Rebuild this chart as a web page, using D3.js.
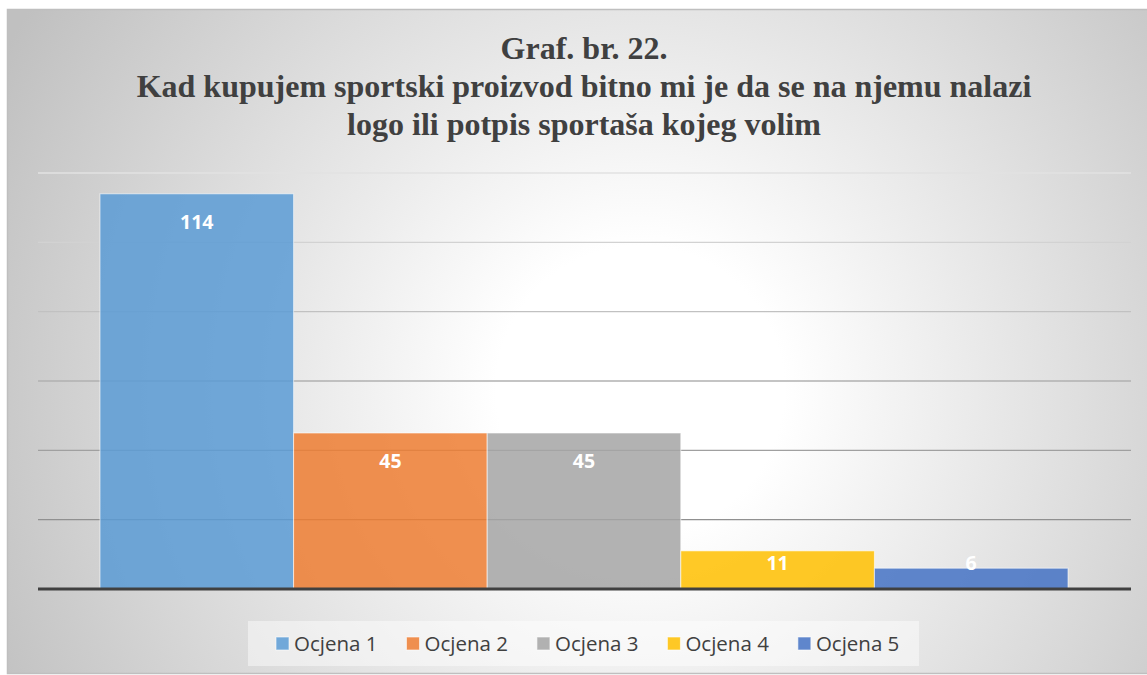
<!DOCTYPE html>
<html lang="hr">
  <head>
    <meta charset="utf-8">
    <title>Graf. br. 22.</title>
  </head>
  <style media="screen">
    body{
      margin:0;
      background-color:#ffffff;
    }
  </style>
  <script src="https://d3js.org/d3.v7.min.js"></script>
  <body>
<svg></svg>
  <script type="text/javascript">
    // podaci
    var titleLines = ["Graf. br. 22.",
                      "Kad kupujem sportski proizvod bitno mi je da se na njemu nalazi",
                      "logo ili potpis sportaša kojeg volim"];
    var series = ["Ocjena 1","Ocjena 2","Ocjena 3","Ocjena 4","Ocjena 5"];
    var values = [114,45,45,11,6];
    var yTicks = [0,20,40,60,80,100,120];
    var colors = ["#5b9bd5","#ed7d31","#a5a5a5","#ffc000","#4472c4"];

    var width = 1147, height = 675;
    var plotLeft = 38, plotRight = 1131, plotTop = 173, plotBottom = 589;

    var svg = d3.select("svg")
                .attr("width",width)
                .attr("height",height);

    // pozadina - radijalni gradijent
    var defs = svg.append("defs");
    var grad = defs.append("radialGradient")
                   .attr("id","bg")
                   .attr("gradientUnits","userSpaceOnUse")
                   .attr("cx",640).attr("cy",390).attr("r",720);
    grad.append("stop").attr("offset","0").attr("stop-color","#ffffff");
    grad.append("stop").attr("offset","0.2").attr("stop-color","#ffffff");
    grad.append("stop").attr("offset","1").attr("stop-color","#c0c0c0");

    svg.append("rect")
       .attr("x",7.5).attr("y",9.5)
       .attr("width",1145).attr("height",664)
       .attr("fill","url(#bg)")
       .attr("stroke","#bfbfbf")
       .attr("stroke-width",1.5);

    // naslov
    svg.selectAll("text.title")
       .data(titleLines)
       .enter()
       .append("text")
       .attr("class","title")
       .text(function(d){ return d; })
       .attr("x",584)
       .attr("y",function(d,i){ return 59 + i*38; })
       .attr("text-anchor","middle")
       .attr("font-family","'Liberation Serif','Times New Roman',serif")
       .attr("font-weight","bold")
       .attr("font-size",32)
       .attr("fill","#404040");

    var y = d3.scaleLinear().domain([0,120]).range([plotBottom,plotTop]);
    var x = d3.scaleBand().domain(series).range([100,1068]).padding(0);
    var gridColor = d3.scaleLinear().domain([0,120]).range(["#7f7f7f","#e2e2e2"]);

    // mreža
    svg.selectAll("line.grid")
       .data(yTicks.slice(1))
       .enter()
       .append("line")
       .attr("class","grid")
       .attr("x1",plotLeft).attr("x2",plotRight)
       .attr("y1",function(d){ return y(d); })
       .attr("y2",function(d){ return y(d); })
       .attr("stroke",function(d){ return gridColor(d); })
       .attr("stroke-width",1.3);

    // stupci
    svg.selectAll("rect.bar")
       .data(values)
       .enter()
       .append("rect")
       .attr("class","bar")
       .attr("x",function(d,i){ return x(series[i]); })
       .attr("width",x.bandwidth())
       .attr("y",function(d){ return y(d); })
       .attr("height",function(d){ return y(0)-y(d); })
       .attr("fill",function(d,i){ return colors[i]; })
       .attr("fill-opacity",0.85)
       .attr("stroke","#ffffff")
       .attr("stroke-opacity",0.6)
       .attr("stroke-width",1);

    // os x
    svg.append("line")
       .attr("x1",plotLeft).attr("x2",plotRight)
       .attr("y1",y(0)).attr("y2",y(0))
       .attr("stroke","#404040")
       .attr("stroke-width",3);

    // oznake vrijednosti
    svg.selectAll("text.lbl")
       .data(values)
       .enter()
       .append("text")
       .attr("class","lbl")
       .text(function(d){ return d; })
       .attr("x",function(d,i){ return x(series[i]) + x.bandwidth()/2; })
       .attr("y",function(d){ return Math.min(y(d)+28, y(0)-26); })
       .attr("dy","0.36em")
       .attr("text-anchor","middle")
       .attr("font-family","'Open Sans',sans-serif")
       .attr("font-weight","bold")
       .attr("font-size",19.5)
       .attr("fill","#ffffff");

    // legenda
    svg.append("rect")
       .attr("x",248).attr("y",621)
       .attr("width",671).attr("height",45)
       .attr("fill","#ffffff")
       .attr("fill-opacity",0.45);

    var lg = svg.selectAll("g.leg")
                .data(series)
                .enter()
                .append("g")
                .attr("class","leg");
    lg.append("rect")
      .attr("width",13).attr("height",13)
      .attr("y",637)
      .attr("fill",function(d,i){ return colors[i]; })
      .attr("fill-opacity",0.85)
      .attr("stroke","#ffffff")
      .attr("stroke-opacity",0.6);
    lg.append("text")
      .text(function(d){ return d; })
      .attr("y",651)
      .attr("font-family","'Open Sans',sans-serif")
      .attr("font-size",20.5)
      .attr("fill","#404040");

    var pos = 276;
    lg.each(function(){
      var g = d3.select(this);
      g.select("rect").attr("x",pos);
      g.select("text").attr("x",pos+18);
      pos = pos + 18 + g.select("text").node().getComputedTextLength() + 29;
    });
  </script>
  </body>
</html>
